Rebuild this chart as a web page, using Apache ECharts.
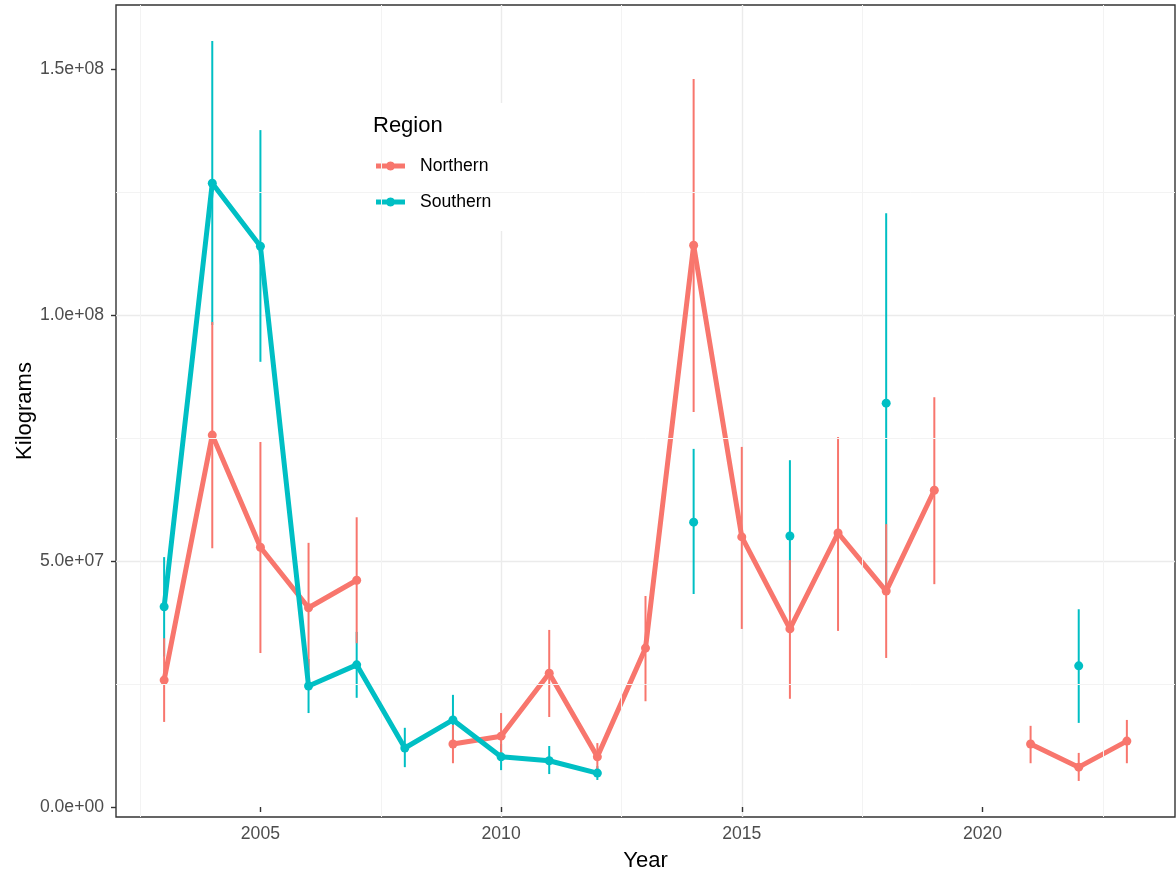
<!DOCTYPE html>
<html>
<head>
<meta charset="utf-8">
<script src="https://cdn.jsdelivr.net/npm/echarts@6/dist/echarts.min.js"></script>
<style>
  html, body { margin: 0; padding: 0; background: #fff; }
  #chart { width: 1176px; height: 877px; }
</style>
</head>
<body>
<div id="chart"></div>
<script>
// years on the x axis
var years = [2003, 2004, 2005, 2006, 2007, 2008, 2009, 2010, 2011, 2012, 2013,
             2014, 2015, 2016, 2017, 2018, 2019, 2020, 2021, 2022, 2023];

// Northern estimate and interval (kg), null = no estimate
var northMean = [2.58e7, 7.56e7, 5.28e7, 4.05e7, 4.61e7, null, 1.28e7, 1.44e7, 2.72e7, 1.02e7, 3.23e7,
                 1.142e8, 5.49e7, 3.62e7, 5.57e7, 4.39e7, 6.44e7, null, 1.28e7, 0.81e7, 1.34e7];
var northLow  = [1.73e7, 5.26e7, 3.13e7, 2.78e7, 3.33e7, null, 0.89e7, 0.98e7, 1.83e7, 0.73e7, 2.15e7,
                 8.03e7, 3.62e7, 2.20e7, 3.58e7, 3.03e7, 4.53e7, null, 0.89e7, 0.53e7, 0.89e7];
var northHigh = [3.43e7, 9.86e7, 7.42e7, 5.37e7, 5.89e7, null, 1.67e7, 1.91e7, 3.60e7, 1.30e7, 4.29e7,
                 1.48e8, 7.32e7, 5.02e7, 7.52e7, 5.75e7, 8.33e7, null, 1.65e7, 1.10e7, 1.77e7];

// Southern estimate and interval (kg)
var southMean = [4.07e7, 1.268e8, 1.14e8, 2.46e7, 2.89e7, 1.20e7, 1.77e7, 1.02e7, 0.94e7, 0.69e7, null,
                 5.79e7, null, 5.51e7, null, 8.21e7, null, null, null, 2.87e7, null];
var southLow  = [3.06e7, 9.8e7, 9.05e7, 1.91e7, 2.22e7, 0.81e7, 1.26e7, 0.75e7, 0.67e7, 0.55e7, null,
                 4.33e7, null, 3.97e7, null, 4.35e7, null, null, null, 1.71e7, null];
var southHigh = [5.08e7, 1.557e8, 1.376e8, 3.01e7, 3.56e7, 1.61e7, 2.28e7, 1.28e7, 1.24e7, 0.83e7, null,
                 7.28e7, null, 7.05e7, null, 1.207e8, null, null, null, 4.02e7, null];

var xTicks = [2005, 2010, 2015, 2020];
var yTicks = [0, 5e7, 1e8, 1.5e8];
var xMinorTicks = [2002.5, 2007.5, 2012.5, 2017.5, 2022.5];
var yMinorTicks = [2.5e7, 7.5e7, 1.25e8];

var RED = '#F8766D', CYAN = '#00BFC4';
var FONT = 'Liberation Sans, Arial, sans-serif';

// legend key: thick bar with a dot in the middle (both drawn clockwise)
function keyIcon() {
  var p = 'path://M0 2 L29 2 L29 7 L0 7 Z M';
  var pts = [];
  for (var k = 0; k < 24; k++) {
    var a = k / 24 * Math.PI * 2;
    pts.push((14.5 + 4.5 * Math.cos(a)).toFixed(2) + ' ' + (4.5 + 4.5 * Math.sin(a)).toFixed(2));
  }
  return p + pts.join(' L') + ' Z';
}

function lineData(mean) {
  return years.map(function(y, i) {
    return [y, mean[i] == null ? '-' : mean[i]];
  });
}

function ciData(low, high) {
  var out = [];
  years.forEach(function(y, i) {
    if (low[i] != null) out.push([y, low[i], high[i]]);
  });
  return out;
}

function ciRender(params, api) {
  var lo = api.coord([api.value(0), api.value(1)]);
  var hi = api.coord([api.value(0), api.value(2)]);
  return {
    type: 'line',
    shape: {x1: lo[0], y1: lo[1], x2: hi[0], y2: hi[1]},
    style: {stroke: api.visual('color'), lineWidth: 2},
  };
}

function sci(v) {
  var s = Number(v).toExponential(1);
  return s.replace(/e([+-])(\d)$/, 'e$10$2');
}

var chart = echarts.init(document.getElementById('chart'));
var options = {
  animation: false,
  textStyle: {fontFamily: FONT},

  title: {
    text: 'Region',
    left: 373,
    top: 115,
    padding: 0,
    textStyle: {fontFamily: FONT, fontSize: 22, fontWeight: 'normal', color: '#000'},
  },

  legend: {
    data: ['Northern', 'Southern'],
    orient: 'vertical',
    left: 362,
    top: 103,
    padding: [54, 13, 20, 14],
    icon: keyIcon(),
    itemWidth: 29,
    itemHeight: 9,
    itemGap: 18,
    backgroundColor: '#fff',
    textStyle: {fontFamily: FONT, fontSize: 17.6, color: '#000', padding: [0, 0, 0, 10]},
  },

  grid: {
    left: 116,
    right: 1,
    top: 5,
    bottom: 60,
    show: true,
    borderColor: '#333',
    borderWidth: 1.4,
    backgroundColor: 'transparent',
  },

  xAxis: {
    type: 'value',
    min: 2002,
    max: 2024,
    name: 'Year',
    nameLocation: 'middle',
    nameGap: 33,
    nameTextStyle: {fontFamily: FONT, fontSize: 22, color: '#000'},
    axisLine: {show: false},
    axisTick: {show: true, length: 5, customValues: xTicks, lineStyle: {color: '#333', width: 1.4}},
    axisLabel: {customValues: xTicks, margin: 8, color: '#4d4d4d', fontSize: 17.6, fontFamily: FONT,
      formatter: function(v) { return String(v); }},
    splitLine: {show: true, showMinLine: false, showMaxLine: false, lineStyle: {color: '#ebebeb', width: 1.4}},
  },

  yAxis: {
    type: 'value',
    min: -2.03e6,
    max: 1.6303e8,
    name: 'Kilograms',
    nameLocation: 'middle',
    nameGap: 80,
    nameMoveOverlap: false,
    nameTextStyle: {fontFamily: FONT, fontSize: 22, color: '#000'},
    axisLine: {show: false},
    axisTick: {show: true, length: 5, customValues: yTicks, lineStyle: {color: '#333', width: 1.4}},
    axisLabel: {customValues: yTicks, margin: 12, color: '#4d4d4d', fontSize: 17.6, fontFamily: FONT,
      formatter: sci},
    splitLine: {show: true, showMinLine: false, showMaxLine: false, lineStyle: {color: '#ebebeb', width: 1.4}},
  },

  series: [
    {
      // minor grid lines
      name: 'minor',
      type: 'line',
      data: [],
      z: 1,
      silent: true,
      markLine: {
        silent: true,
        symbol: 'none',
        label: {show: false},
        lineStyle: {color: '#f3f3f3', width: 1, type: 'solid'},
        data: xMinorTicks.map(function(v) { return {xAxis: v}; })
          .concat(yMinorTicks.map(function(v) { return {yAxis: v}; })),
      },
    },
    {
      name: 'Southern CI',
      type: 'custom',
      renderItem: ciRender,
      data: ciData(southLow, southHigh),
      encode: {x: 0, y: [1, 2]},
      itemStyle: {color: CYAN},
      z: 2,
      silent: true,
    },
    {
      name: 'Northern CI',
      type: 'custom',
      renderItem: ciRender,
      data: ciData(northLow, northHigh),
      encode: {x: 0, y: [1, 2]},
      itemStyle: {color: RED},
      z: 3,
      silent: true,
    },
    {
      name: 'Northern',
      type: 'line',
      data: lineData(northMean),
      connectNulls: false,
      symbol: 'circle',
      symbolSize: 9,
      showSymbol: true,
      itemStyle: {color: RED},
      lineStyle: {color: RED, width: 5},
      emphasis: {disabled: true},
      z: 4,
    },
    {
      name: 'Southern',
      type: 'line',
      data: lineData(southMean),
      connectNulls: false,
      symbol: 'circle',
      symbolSize: 9,
      showSymbol: true,
      itemStyle: {color: CYAN},
      lineStyle: {color: CYAN, width: 5},
      emphasis: {disabled: true},
      z: 5,
    },
  ],
};
chart.setOption(options);
</script>
</body>
</html>
